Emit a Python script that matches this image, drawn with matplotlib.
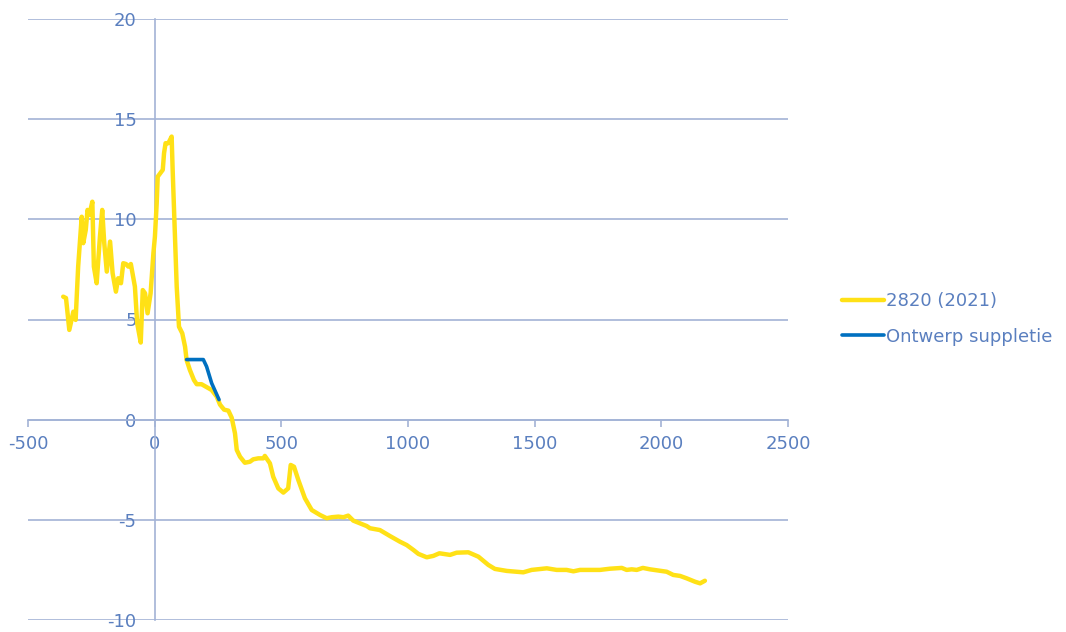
import matplotlib
matplotlib.use("Agg")
import matplotlib.pyplot as plt

# Profile 2820 (2021)
profile_x = [-361, -350, -337, -328, -321, -312, -302, -288, -282, -272, -265, -258, -246,
             -240, -229, -216, -207, -199, -189, -176, -166, -153, -144, -133, -124, -113,
             -104, -94, -78, -69, -55, -47, -38, -28, -16, -5, 1, 8, 12, 32, 37, 43, 54, 67,
             71, 78, 87, 96, 109, 120, 126, 139, 155, 166, 185, 225, 245, 258, 274, 291, 304,
             317, 324, 337, 356, 376, 389, 409, 429, 435, 455, 468, 488, 508, 527, 537, 550,
             567, 593, 620, 653, 679, 699, 725, 745, 764, 784, 837, 850, 889, 929, 968, 995,
             1021, 1041, 1074, 1100, 1124, 1166, 1192, 1238, 1278, 1317, 1343, 1390, 1455,
             1488, 1548, 1587, 1626, 1653, 1679, 1758, 1797, 1844, 1863, 1883, 1903, 1927,
             1955, 1995, 2021, 2047, 2074, 2100, 2133, 2153, 2172]
profile_y = [6.14, 6.07, 4.48, 4.98, 5.39, 4.98, 7.64, 10.13, 8.81, 9.47, 10.47, 10.22, 10.88,
             7.64, 6.81, 9.14, 10.47, 8.81, 7.39, 8.89, 7.31, 6.39, 7.06, 6.81, 7.81, 7.77,
             7.64, 7.77, 6.64, 4.81, 3.85, 6.47, 6.31, 5.31, 6.31, 8.31, 9.14, 10.8, 12.13,
             12.47, 13.3, 13.8, 13.8, 14.13, 12.47, 9.97, 6.64, 4.64, 4.31, 3.64, 2.98, 2.48,
             1.98, 1.77, 1.77, 1.48, 1.15, 0.75, 0.5, 0.45, 0.1, -0.68, -1.51, -1.85, -2.15,
             -2.1, -1.98, -1.93, -1.93, -1.81, -2.18, -2.85, -3.43, -3.64, -3.43, -2.26,
             -2.35, -3.01, -3.92, -4.51, -4.76, -4.92, -4.87, -4.84, -4.87, -4.79, -5.04,
             -5.31, -5.42, -5.51, -5.81, -6.09, -6.26, -6.5, -6.7, -6.87, -6.8, -6.67, -6.75,
             -6.64, -6.62, -6.84, -7.25, -7.45, -7.55, -7.62, -7.5, -7.42, -7.5, -7.5, -7.57,
             -7.5, -7.5, -7.44, -7.4, -7.5, -7.47, -7.5, -7.4, -7.47, -7.54, -7.59, -7.75,
             -7.8, -7.92, -8.09, -8.17, -8.04]

# Design nourishment
design_x = [126, 192, 205, 225, 254]
design_y = [3.0, 3.0, 2.65, 1.82, 1.0]

series_labels = ["2820 (2021)", "Ontwerp suppletie"]
x_ticks = [-500, 0, 500, 1000, 1500, 2000, 2500]
y_ticks = [-10, -5, 0, 5, 10, 15, 20]

axis_color = "#A3B3D6"
label_color = "#5A7FBF"

fig = plt.figure(figsize=(10.66, 6.32), dpi=100)
ax = fig.add_axes([28 / 1066, 12 / 632, 760 / 1066, 601 / 632])

ax.plot(profile_x, profile_y, color="#FFE116", lw=3.2, solid_joinstyle="round",
        solid_capstyle="round", label=series_labels[0], zorder=3)
ax.plot(design_x, design_y, color="#0070C0", lw=2.6, solid_capstyle="round",
        label=series_labels[1], zorder=4)

ax.set_xlim(-500, 2500)
ax.set_ylim(-10, 20)
ax.set_xticks(x_ticks)
ax.set_yticks(y_ticks)
ax.set_xticklabels([str(v) for v in x_ticks])
ax.set_yticklabels([str(v) for v in y_ticks])

for s in ["top", "right"]:
    ax.spines[s].set_visible(False)
ax.spines["left"].set_position(("data", 0))
ax.spines["bottom"].set_position(("data", 0))
for s in ["left", "bottom"]:
    ax.spines[s].set_color(axis_color)
    ax.spines[s].set_linewidth(1.2)

ax.yaxis.grid(True, color=axis_color, lw=1.2)
ax.set_axisbelow(True)

ax.tick_params(axis="both", colors=axis_color, labelcolor=label_color, labelsize=13,
               width=1.2, direction="out")
ax.tick_params(axis="x", pad=6, length=5)
ax.tick_params(axis="y", pad=13, length=0)

leg = fig.legend(loc="upper left", bbox_to_anchor=(835 / 1066, 1 - 285 / 632),
                 frameon=False, fontsize=13, handlelength=2.3, handletextpad=0.15,
                 labelspacing=0.97, labelcolor=label_color, borderaxespad=0)

fig.savefig("out.png", dpi=100)
